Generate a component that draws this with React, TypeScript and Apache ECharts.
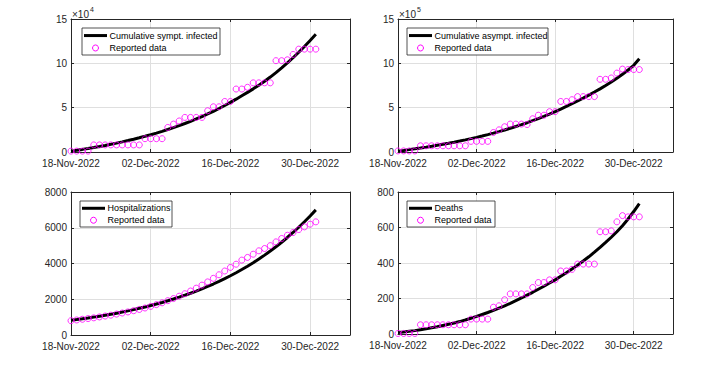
import React, { useEffect, useRef } from "react";
import * as echarts from "echarts";

// ---- x axis (days since 18-Nov-2022) ----
const xTickDays = [0, 14, 28, 42];
const xTickLabels = ["18-Nov-2022", "02-Dec-2022", "16-Dec-2022", "30-Dec-2022"];
const xMaxDay = 49;

// ---- Cumulative symptomatic infected ----
const sympData = [
  1000, 1000, 1000, 1000,
  8000, 8000, 8000, 8000, 8000, 8000, 8000, 8000, 8000,
  15000, 15000, 15000, 15000,
  27700, 31500, 35000, 39000, 39000, 39000, 39000,
  46500, 51000, 51000, 57000, 57000,
  71000, 71000, 73000, 78000, 78000, 78000, 78000,
  103000, 103000, 104000, 110000, 116000, 116000, 116000, 116000,
];
const sympCurve = [
  1000, 1950, 2940, 3980, 5080, 6220, 7430, 8690, 10020, 11410,
  12880, 14410, 16020, 17720, 19490, 21350, 23310, 25360, 27520, 29780,
  32150, 34640, 37260, 40000, 42880, 45910, 49080, 52410, 55910, 59580,
  63430, 67250, 71200, 75400, 79800, 84500, 89500, 94800, 100400, 106300,
  112500, 119000, 125800, 132700,
];

// ---- Cumulative asymptomatic infected ----
const asymData = [
  12000, 12000, 12000, 12000,
  70000, 70000, 70000, 70000, 70000, 70000, 70000, 70000, 70000,
  120000, 120000, 120000, 120000,
  220000, 250000, 285000, 315000, 315000, 315000, 310000,
  375000, 415000, 415000, 455000, 455000,
  570000, 570000, 590000, 625000, 625000, 625000, 625000,
  820000, 820000, 835000, 890000, 935000, 930000, 930000, 930000,
];
const asymCurve = [
  10000, 18100, 26700, 35600, 44900, 54600, 64800, 75500, 86700, 98300,
  110500, 123300, 136600, 150500, 165100, 180400, 196300, 212900, 230400, 248600,
  267700, 287600, 308500, 330300, 353100, 377000, 401900, 428000, 455300, 483800,
  513600, 544000, 575500, 608000, 641500, 676000, 712000, 750000, 790000, 832000,
  877000, 925000, 978000, 1052000,
];

// ---- Hospitalizations ----
const hospData = [
  800, 840, 880, 920, 960, 1010, 1060, 1110, 1170, 1230,
  1290, 1360, 1430, 1510, 1600, 1700, 1800, 1920, 2040, 2170,
  2310, 2460, 2620, 2790, 2970, 3170, 3370, 3580, 3780, 3960,
  4190, 4340, 4520, 4710, 4840, 5000, 5210, 5400, 5580, 5730,
  5900, 6050, 6200, 6330,
];
const hospCurve = [
  820, 862, 906, 952, 1001, 1052, 1106, 1163, 1222, 1285,
  1350, 1419, 1492, 1568, 1648, 1733, 1821, 1914, 2012, 2115,
  2223, 2337, 2456, 2582, 2714, 2853, 2999, 3152, 3313, 3483,
  3661, 3848, 4045, 4252, 4469, 4698, 4938, 5190, 5456, 5735,
  6028, 6336, 6660, 7000,
];

// ---- Deaths ----
const deathData = [
  3, 3, 3, 3,
  52, 52, 52, 52, 52, 52, 52, 52, 52,
  84, 84, 84, 84,
  151, 159, 193, 226, 226, 226, 226,
  262, 290, 290, 305, 305,
  355, 355, 364, 394, 394, 394, 394,
  576, 576, 581, 632, 667, 660, 660, 660,
];
const deathCurve = [
  8, 11, 15, 19, 24, 29, 35, 41, 48, 55,
  62, 70, 79, 89, 99, 110, 121, 133, 146, 159,
  173, 188, 203, 219, 235, 252, 269, 287, 305, 325,
  345, 366, 388, 411, 435, 461, 488, 516, 545, 576,
  610, 648, 690, 735,
];

const curveNames = ["Cumulative sympt. infected", "Cumulative asympt. infected", "Hospitalizations", "Deaths"];
const dataName = "Reported data";

const FONT = "'Liberation Sans', Arial, Helvetica, sans-serif";
const AX = "#262626";

const panels = [
  { grid: { left: 71, top: 19, width: 279, height: 133 }, yMax: 150000, yInt: 50000, yDiv: 1e4, curve: sympCurve, data: sympData, exp: "4" },
  { grid: { left: 398, top: 19, width: 275, height: 133 }, yMax: 1500000, yInt: 500000, yDiv: 1e5, curve: asymCurve, data: asymData, exp: "5" },
  { grid: { left: 71, top: 192, width: 279, height: 143 }, yMax: 8000, yInt: 2000, yDiv: 1, curve: hospCurve, data: hospData, exp: "" },
  { grid: { left: 398, top: 192, width: 275, height: 142 }, yMax: 800, yInt: 200, yDiv: 1, curve: deathCurve, data: deathData, exp: "" },
];

const legendBoxes = [
  { x: 82, y: 28, w: 138, h: 27 },
  { x: 407, y: 28, w: 141, h: 27 },
  { x: 80, y: 201, w: 92, h: 26 },
  { x: 407, y: 201, w: 88, h: 26 },
];

function buildOption() {
  const grid: any[] = [];
  const xAxis: any[] = [];
  const yAxis: any[] = [];
  const series: any[] = [];
  const graphic: any[] = [];

  panels.forEach((p, i) => {
    grid.push({ ...p.grid, containLabel: false });
    const axisLine = { show: true, onZero: false, lineStyle: { color: AX, width: 1 } };
    const tick = { show: true, inside: true, length: 3, lineStyle: { color: AX, width: 1 } };
    xAxis.push({
      type: "value", gridIndex: i, position: "bottom", min: 0, max: xMaxDay, interval: 14,
      axisLine, axisTick: tick,
      axisLabel: {
        margin: 6, fontSize: 10, color: AX, fontFamily: FONT,
        formatter: (v: number) => { const k = xTickDays.indexOf(v); return k >= 0 ? xTickLabels[k] : ""; },
      },
      splitLine: { show: true, lineStyle: { color: "#dfdfdf", width: 1 } },
    });
    xAxis.push({
      type: "value", gridIndex: i, position: "top", min: 0, max: xMaxDay, interval: 14,
      axisLine, axisTick: tick, axisLabel: { show: false }, splitLine: { show: false },
    });
    yAxis.push({
      type: "value", gridIndex: i, position: "left", min: 0, max: p.yMax, interval: p.yInt,
      axisLine, axisTick: tick,
      axisLabel: { margin: 4, fontSize: 10, color: AX, fontFamily: FONT, formatter: (v: number) => String(v / p.yDiv) },
      splitLine: { show: true, lineStyle: { color: "#dfdfdf", width: 1 } },
    });
    yAxis.push({
      type: "value", gridIndex: i, position: "right", min: 0, max: p.yMax, interval: p.yInt,
      axisLine, axisTick: tick, axisLabel: { show: false }, splitLine: { show: false },
    });
    series.push({
      type: "line", name: curveNames[i], xAxisIndex: 2 * i, yAxisIndex: 2 * i,
      data: p.curve.map((v, d) => [d, v]), showSymbol: false, symbol: "none",
      lineStyle: { color: "#000", width: 3 }, z: 2,
    });
    series.push({
      type: "scatter", name: dataName, xAxisIndex: 2 * i, yAxisIndex: 2 * i,
      data: p.data.map((v, d) => [d, v]), symbol: "circle", symbolSize: 6,
      itemStyle: { color: "transparent", borderColor: "#ff00ff", borderWidth: 1 }, z: 3,
    });

    // legend
    const b = legendBoxes[i];
    const r1 = b.y + b.h * 0.28;
    const r2 = b.y + b.h * 0.74;
    graphic.push({ type: "rect", shape: { x: b.x, y: b.y, width: b.w, height: b.h }, style: { fill: "#fff", stroke: AX, lineWidth: 0.8 }, z: 100 });
    graphic.push({ type: "line", shape: { x1: b.x + 2, y1: r1, x2: b.x + 25, y2: r1 }, style: { stroke: "#000", lineWidth: 3 }, z: 101 });
    graphic.push({ type: "circle", shape: { cx: b.x + 13.5, cy: r2, r: 3 }, style: { fill: "transparent", stroke: "#ff00ff", lineWidth: 1 }, z: 101 });
    graphic.push({ type: "text", x: b.x + 27.5, y: r1, style: { text: curveNames[i], fontSize: 9, fill: "#000", verticalAlign: "middle", fontFamily: FONT }, z: 101 });
    graphic.push({ type: "text", x: b.x + 27.5, y: r2, style: { text: dataName, fontSize: 9, fill: "#000", verticalAlign: "middle", fontFamily: FONT }, z: 101 });

    // exponent label
    if (p.exp) {
      graphic.push({ type: "text", x: p.grid.left + 1, y: 9, style: { text: "×10", fontSize: 10, fill: AX, fontFamily: FONT }, z: 101 });
      graphic.push({ type: "text", x: p.grid.left + 19, y: 6, style: { text: p.exp, fontSize: 7, fill: AX, fontFamily: FONT }, z: 101 });
    }
  });

  return { animation: false, backgroundColor: "#fff", grid, xAxis, yAxis, series, graphic };
}

export default function App() {
  const ref = useRef<HTMLDivElement>(null);
  useEffect(() => {
    if (!ref.current) return;
    const chart = echarts.init(ref.current, undefined, { renderer: "svg" });
    chart.setOption(buildOption());
    return () => chart.dispose();
  }, []);
  return <div ref={ref} style={{ position: "fixed", left: 0, top: 0, width: 723, height: 366, background: "#fff" }} />;
}
